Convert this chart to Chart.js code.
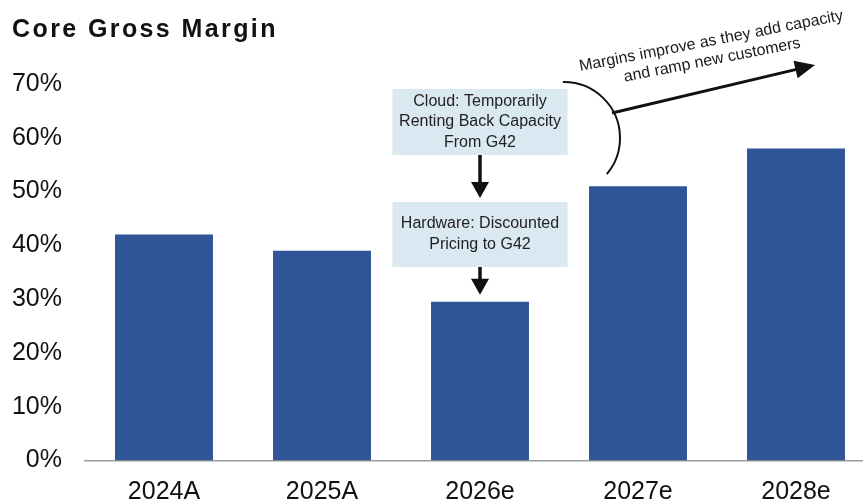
<!DOCTYPE html>
<html>
<head>
<meta charset="utf-8">
<title>Core Gross Margin</title>
<script src="https://cdn.jsdelivr.net/npm/chart.js@4/dist/chart.umd.min.js"></script>
<style>
  html, body { margin: 0; padding: 0; background: #fff; overflow: hidden; }
  #wrap { width: 863px; height: 501px; overflow: hidden; position: relative; }
  canvas { display: block; }
</style>
</head>
<body>
<div id="wrap"><canvas id="c" width="875" height="501"></canvas></div>
<script>
// Core gross margin by year (%)
const years = ['2024A', '2025A', '2026e', '2027e', '2028e'];
const grossMargin = [42, 39, 29.5, 51, 58];
const yTicks = [0, 10, 20, 30, 40, 50, 60, 70];

const titleText = 'Core Gross Margin';
const cloudNote = ['Cloud: Temporarily', 'Renting Back Capacity', 'From G42'];
const hardwareNote = ['Hardware: Discounted', 'Pricing to G42'];
const outlookNote = ['Margins improve as they add capacity', 'and ramp new customers'];

const FONT = '"Liberation Sans", Arial, Helvetica, sans-serif';
const BAR_BLUE = '#2F5597';
const NOTE_FILL = '#DAE8F2';
const INK = '#111111';

function arrowHead(ctx, x1, y1, x2, y2, len, half) {
  const a = Math.atan2(y2 - y1, x2 - x1);
  ctx.beginPath();
  ctx.moveTo(x2, y2);
  ctx.lineTo(x2 - len * Math.cos(a) + half * Math.sin(a), y2 - len * Math.sin(a) - half * Math.cos(a));
  ctx.lineTo(x2 - len * Math.cos(a) - half * Math.sin(a), y2 - len * Math.sin(a) + half * Math.cos(a));
  ctx.closePath();
  ctx.fill();
}

function arrow(ctx, x1, y1, x2, y2, width, len, half) {
  const a = Math.atan2(y2 - y1, x2 - x1);
  ctx.lineWidth = width;
  ctx.beginPath();
  ctx.moveTo(x1, y1);
  ctx.lineTo(x2 - (len - 2) * Math.cos(a), y2 - (len - 2) * Math.sin(a));
  ctx.stroke();
  arrowHead(ctx, x1, y1, x2, y2, len, half);
}

function noteBox(ctx, cx, top, bottom, halfW, lines, lineGap) {
  ctx.fillStyle = NOTE_FILL;
  ctx.fillRect(cx - halfW, top, halfW * 2, bottom - top);
  ctx.fillStyle = '#222';
  ctx.font = '16px ' + FONT;
  ctx.textAlign = 'center';
  ctx.textBaseline = 'middle';
  const mid = (top + bottom) / 2;
  lines.forEach((t, i) => {
    ctx.fillText(t, cx, mid + (i - (lines.length - 1) / 2) * lineGap);
  });
}

const annotations = {
  id: 'annotations',
  afterDraw(chart) {
    const ctx = chart.ctx;
    const x = chart.scales.x;
    const y = chart.scales.y;
    ctx.save();

    // Title
    ctx.fillStyle = INK;
    ctx.font = 'bold 25px ' + FONT;
    ctx.textAlign = 'left';
    ctx.textBaseline = 'alphabetic';
    ctx.letterSpacing = '2.4px';
    ctx.fillText(titleText, 12, 37);
    ctx.letterSpacing = '0px';

    // Notes over the 2026e bar
    const cx = x.getPixelForValue(2);
    const barTop = y.getPixelForValue(grossMargin[2]);
    noteBox(ctx, cx, 89, 155, 87.5, cloudNote, 20.5);
    noteBox(ctx, cx, 202, 267, 87.5, hardwareNote, 21);

    ctx.strokeStyle = INK;
    ctx.fillStyle = INK;
    arrow(ctx, cx, 155, cx, 198, 3.5, 16, 9);
    arrow(ctx, cx, 267, cx, barTop - 7, 3.5, 16, 9);

    // Bracket and outlook arrow
    ctx.lineWidth = 2;
    ctx.beginPath();
    ctx.arc(564, 138, 56, -Math.PI / 2 - 0.02, 0.70);
    ctx.stroke();
    arrow(ctx, 612, 113, 815, 65, 3, 20, 9);

    ctx.fillStyle = '#1a1a1a';
    ctx.font = '16px ' + FONT;
    ctx.textAlign = 'center';
    ctx.textBaseline = 'alphabetic';
    const ang = -11 * Math.PI / 180;
    [[712, 45.5], [713, 64.5]].forEach((p, i) => {
      ctx.save();
      ctx.translate(p[0], p[1]);
      ctx.rotate(ang);
      ctx.fillText(outlookNote[i], 0, 0);
      ctx.restore();
    });

    ctx.restore();
  }
};

new Chart(document.getElementById('c'), {
  type: 'bar',
  data: {
    labels: years,
    datasets: [{
      data: grossMargin,
      backgroundColor: BAR_BLUE,
      borderWidth: 0,
      barPercentage: 0.62,
      categoryPercentage: 1.0
    }]
  },
  options: {
    responsive: false,
    animation: false,
    devicePixelRatio: 1,
    layout: { padding: { top: 84, left: 0, right: 0, bottom: 0 } },
    plugins: {
      legend: { display: false },
      tooltip: { enabled: false },
      title: { display: false }
    },
    scales: {
      x: {
        grid: { display: false, drawTicks: false },
        border: { display: true, color: '#9a9a9a', width: 1.5 },
        ticks: {
          color: INK,
          font: { family: FONT, size: 25 },
          padding: 17,
          maxRotation: 0
        },
        afterFit(s) { s.height = 40.5; }
      },
      y: {
        min: yTicks[0],
        max: yTicks[yTicks.length - 1],
        afterBuildTicks(s) { s.ticks = yTicks.map(v => ({ value: v })); },
        grid: { display: false, drawTicks: false },
        border: { display: false },
        ticks: {
          color: INK,
          font: { family: FONT, size: 25 },
          padding: 23,
          callback: v => v + '%'
        },
        afterFit(s) { s.width = 85; }
      }
    }
  },
  plugins: [annotations]
});
</script>
</body>
</html>
